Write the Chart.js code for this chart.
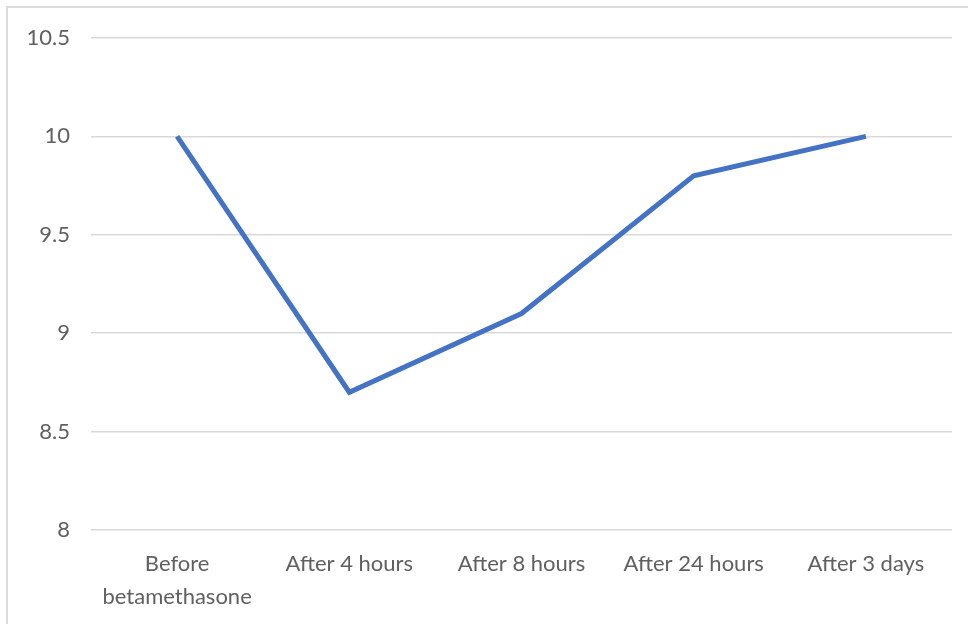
<!DOCTYPE html>
<html>
<head>
<meta charset="utf-8">
<script src="https://cdn.jsdelivr.net/npm/chart.js@4.4.1/dist/chart.umd.min.js"></script>
<style>
  html, body { margin: 0; padding: 0; background: #ffffff; }
  #wrap { position: relative; width: 968px; height: 624px; overflow: hidden; }
  #frame { position: absolute; left: 6px; top: 6px; width: 980px; height: 640px;
           border: 2px solid #dcdcdc; box-sizing: border-box; }
  canvas { position: absolute; left: 0; top: 0; }
</style>
</head>
<body>
<div id="wrap">
  <div id="frame"></div>
  <canvas id="c" width="968" height="624"></canvas>
</div>
<script>
// Time points and measured values
const categories = [["Before", "betamethasone"], "After 4 hours", "After 8 hours", "After 24 hours", "After 3 days"];
const values = [10, 8.7, 9.1, 9.8, 10];
const yTicks = [8, 8.5, 9, 9.5, 10, 10.5];

const labelFont = { family: "Lato, 'Open Sans', sans-serif", size: 22, lineHeight: 1.5 };

new Chart(document.getElementById('c'), {
  type: 'line',
  data: {
    labels: categories,
    datasets: [{
      data: values,
      borderColor: '#4472C4',
      borderWidth: 5,
      pointRadius: 0,
      pointHoverRadius: 0,
      tension: 0,
      fill: false
    }]
  },
  options: {
    responsive: false,
    animation: false,
    events: [],
    layout: { padding: { left: 0, top: 38, right: 16, bottom: 0 } },
    plugins: { legend: { display: false }, tooltip: { enabled: false } },
    scales: {
      x: {
        offset: true,
        grid: { display: false },
        border: { display: false },
        ticks: { color: '#606060', font: labelFont, padding: 9, maxRotation: 0, autoSkip: false },
        afterFit: (s) => { s.height = 94; }
      },
      y: {
        min: 8,
        max: 10.5,
        afterBuildTicks: (s) => { s.ticks = yTicks.map(v => ({ value: v })); },
        grid: { color: '#d9d9d9', lineWidth: 1.5, drawTicks: false },
        border: { display: false },
        ticks: { color: '#606060', font: labelFont, padding: 21, callback: (v) => String(v) },
        afterFit: (s) => { s.width = 91; }
      }
    }
  }
});
</script>
</body>
</html>
